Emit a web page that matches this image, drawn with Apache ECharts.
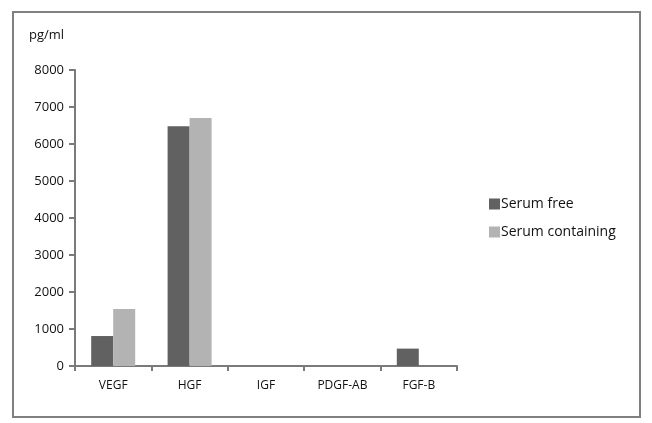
<!DOCTYPE html>
<html><head><meta charset="utf-8">
<script src="https://cdn.jsdelivr.net/npm/echarts@6/dist/echarts.min.js"></script>
<style>html,body{margin:0;padding:0;background:#fff;}#c{width:652px;height:423px;}</style>
</head><body><div id="c"></div>
<script>
const categories = ['VEGF', 'HGF', 'IGF', 'PDGF-AB', 'FGF-B'];
const serumFree = [810, 6480, 0, 0, 470];
const serumContaining = [1540, 6700, 0, 0, 0];
const seriesNames = ['Serum free', 'Serum containing'];
const yTicks = [0, 1000, 2000, 3000, 4000, 5000, 6000, 7000, 8000];

const chart = echarts.init(document.getElementById('c'), null, {renderer: 'canvas'});
const font = '"Open Sans", "DejaVu Sans", sans-serif';
chart.setOption({
  animation: false,
  graphic: [
    {type: 'rect', shape: {x: 13, y: 12, width: 627, height: 405},
     style: {fill: 'none', stroke: '#808080', lineWidth: 2}, silent: true},
    {type: 'text', left: 29, top: 29, style: {text: 'pg/ml', font: '13px ' + font, fill: '#111'}}
  ],
  legend: {
    orient: 'vertical', left: 484, top: 192, itemWidth: 11, itemHeight: 11, itemGap: 14,
    icon: 'rect',
    textStyle: {fontFamily: font, fontSize: 14, color: '#111', padding: [0, 0, 0, -4]},
    data: seriesNames
  },
  grid: {left: 75, right: 195, top: 70, bottom: 57, containLabel: false},
  xAxis: {
    type: 'category', data: categories, boundaryGap: true,
    axisLine: {lineStyle: {color: '#7a7a7a', width: 2}},
    axisTick: {show: true, length: 5, alignWithLabel: false, lineStyle: {color: '#7a7a7a', width: 2}},
    axisLabel: {fontFamily: font, fontSize: 12, color: '#111', margin: 14}
  },
  yAxis: {
    type: 'value', min: yTicks[0], max: yTicks[yTicks.length - 1], interval: 1000,
    axisLine: {show: true, lineStyle: {color: '#7a7a7a', width: 2}},
    axisTick: {show: true, length: 6, lineStyle: {color: '#7a7a7a', width: 2}},
    splitLine: {show: false},
    axisLabel: {fontFamily: font, fontSize: 13, color: '#111', margin: 11,
      formatter: function (v) { return String(v); }}
  },
  series: [
    {name: seriesNames[0], type: 'bar', data: serumFree, barWidth: 22, barGap: '0%',
     itemStyle: {color: '#616161'}},
    {name: seriesNames[1], type: 'bar', data: serumContaining, barWidth: 22, barGap: '0%',
     itemStyle: {color: '#b3b3b3'}}
  ]
});
</script></body></html>
